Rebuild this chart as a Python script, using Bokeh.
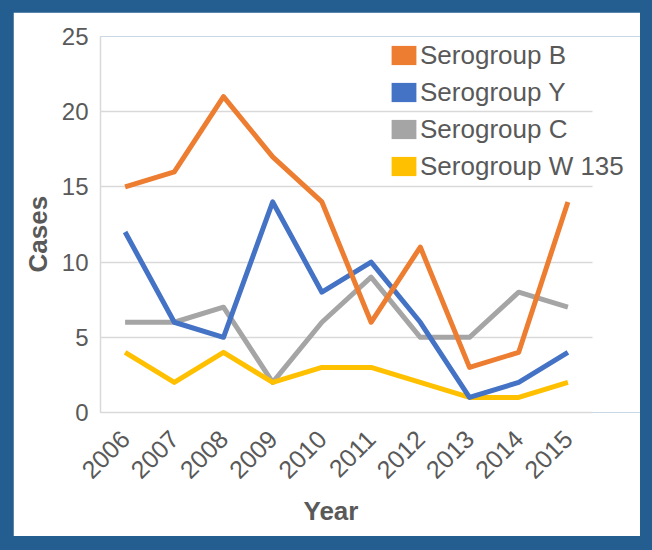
from bokeh.plotting import figure
from bokeh.models import Legend, LegendItem, Range1d, FixedTicker, Title
from bokeh.layouts import column
from bokeh.embed import file_html
from bokeh.resources import INLINE
import math

years = ["2006", "2007", "2008", "2009", "2010", "2011", "2012", "2013", "2014", "2015"]
sero_b = [15, 16, 21, 17, 14, 6, 11, 3, 4, 14]
sero_y = [12, 6, 5, 14, 8, 10, 6, 1, 2, 4]
sero_c = [6, 6, 7, 2, 6, 9, 5, 5, 8, 7]
sero_w = [4, 2, 4, 2, 3, 3, 2, 1, 1, 2]
y_ticks = [0, 5, 10, 15, 20, 25]

xs = list(range(len(years)))

BLUE_BG = "#245E90"
TXT = "#595959"
GRID = "#D9D9D9"

# layout geometry (pixels)
FIG_W, FIG_H = 627, 524
BORDER_L, BORDER_T, BORDER_B = 87, 24, 124
CAT_PX = 49.2  # width of one category slot
frame_w = FIG_W - BORDER_L
x_start = -0.5
x_end = x_start + frame_w / CAT_PX

p = figure(x_range=Range1d(x_start, x_end), y_range=Range1d(0, 25),
           width=FIG_W, height=FIG_H,
           output_backend="svg", toolbar_location=None,
           min_border_left=BORDER_L, min_border_right=0, min_border_top=BORDER_T,
           min_border_bottom=BORDER_B,
           background_fill_color="white", border_fill_color="white")
p.outline_line_color = None

series = [("Serogroup C", sero_c, "#A5A5A5"),
          ("Serogroup W 135", sero_w, "#FFC000"),
          ("Serogroup Y", sero_y, "#4472C4"),
          ("Serogroup B", sero_b, "#ED7D31")]
for name, vals, col in series:
    p.line(xs, vals, line_color=col, line_width=5, line_join="round")

legend_items = []
for name, vals, col in [("Serogroup B", sero_b, "#ED7D31"), ("Serogroup Y", sero_y, "#4472C4"),
                        ("Serogroup C", sero_c, "#A5A5A5"), ("Serogroup W 135", sero_w, "#FFC000")]:
    # zero-size swatch renderer: only its legend glyph is visible
    r = p.rect(x=xs[:1], y=vals[:1], width=0, height=0, fill_color=col, line_color=None)
    legend_items.append(LegendItem(label=name, renderers=[r]))

legend = Legend(items=legend_items, location=(288, 230),
                glyph_width=31, glyph_height=24, label_height=32, spacing=5,
                label_standoff=1, padding=0, margin=0,
                border_line_color=None, background_fill_alpha=0,
                label_text_font="Liberation Sans", label_text_font_size="26px",
                label_text_color=TXT)
p.add_layout(legend)

p.xgrid.grid_line_color = None
p.ygrid.grid_line_color = GRID
p.ygrid.grid_line_width = 1.5
try:
    p.ygrid.cross_bounds = (x_start, len(years) - 0.5)
except Exception:
    pass

p.yaxis.ticker = y_ticks
p.xaxis.ticker = FixedTicker(ticks=xs)
p.xaxis.major_label_overrides = {i: y for i, y in zip(xs, years)}
p.xaxis.bounds = (x_start, len(years) - 0.5)

for ax in (p.xaxis[0], p.yaxis[0]):
    ax.axis_line_color = GRID
    ax.axis_line_width = 1.5
    ax.major_tick_line_color = None
    ax.minor_tick_line_color = None
    ax.major_tick_out = 0
    ax.major_tick_in = 0
    ax.minor_tick_out = 0
    ax.minor_tick_in = 0
    ax.major_label_text_font = "Liberation Sans"
    ax.major_label_text_font_size = "24px"
    ax.major_label_text_color = TXT

p.yaxis.major_label_standoff = 12
p.xaxis.major_label_text_font_size = "25px"
p.xaxis.major_label_orientation = math.pi / 4
p.xaxis.major_label_standoff = 22

title_style = dict(text_font="Liberation Sans", text_font_size="26px",
                   text_font_style="bold", text_color=TXT)
p.add_layout(Title(text="Year", align="left", offset=203, standoff=8, **title_style), "below")
p.add_layout(Title(text="Cases", align="left", offset=140, standoff=11, **title_style), "left")

layout = column(p, styles={"background-color": BLUE_BG,
                           "padding": "12px 12px 14px 13px"})

html = file_html(layout, INLINE)
html = html.replace("</head>", "<style>html,body{margin:0 !important;background-color:%s !important;}</style></head>" % BLUE_BG, 1)
open("out.html", "w").write(html)
